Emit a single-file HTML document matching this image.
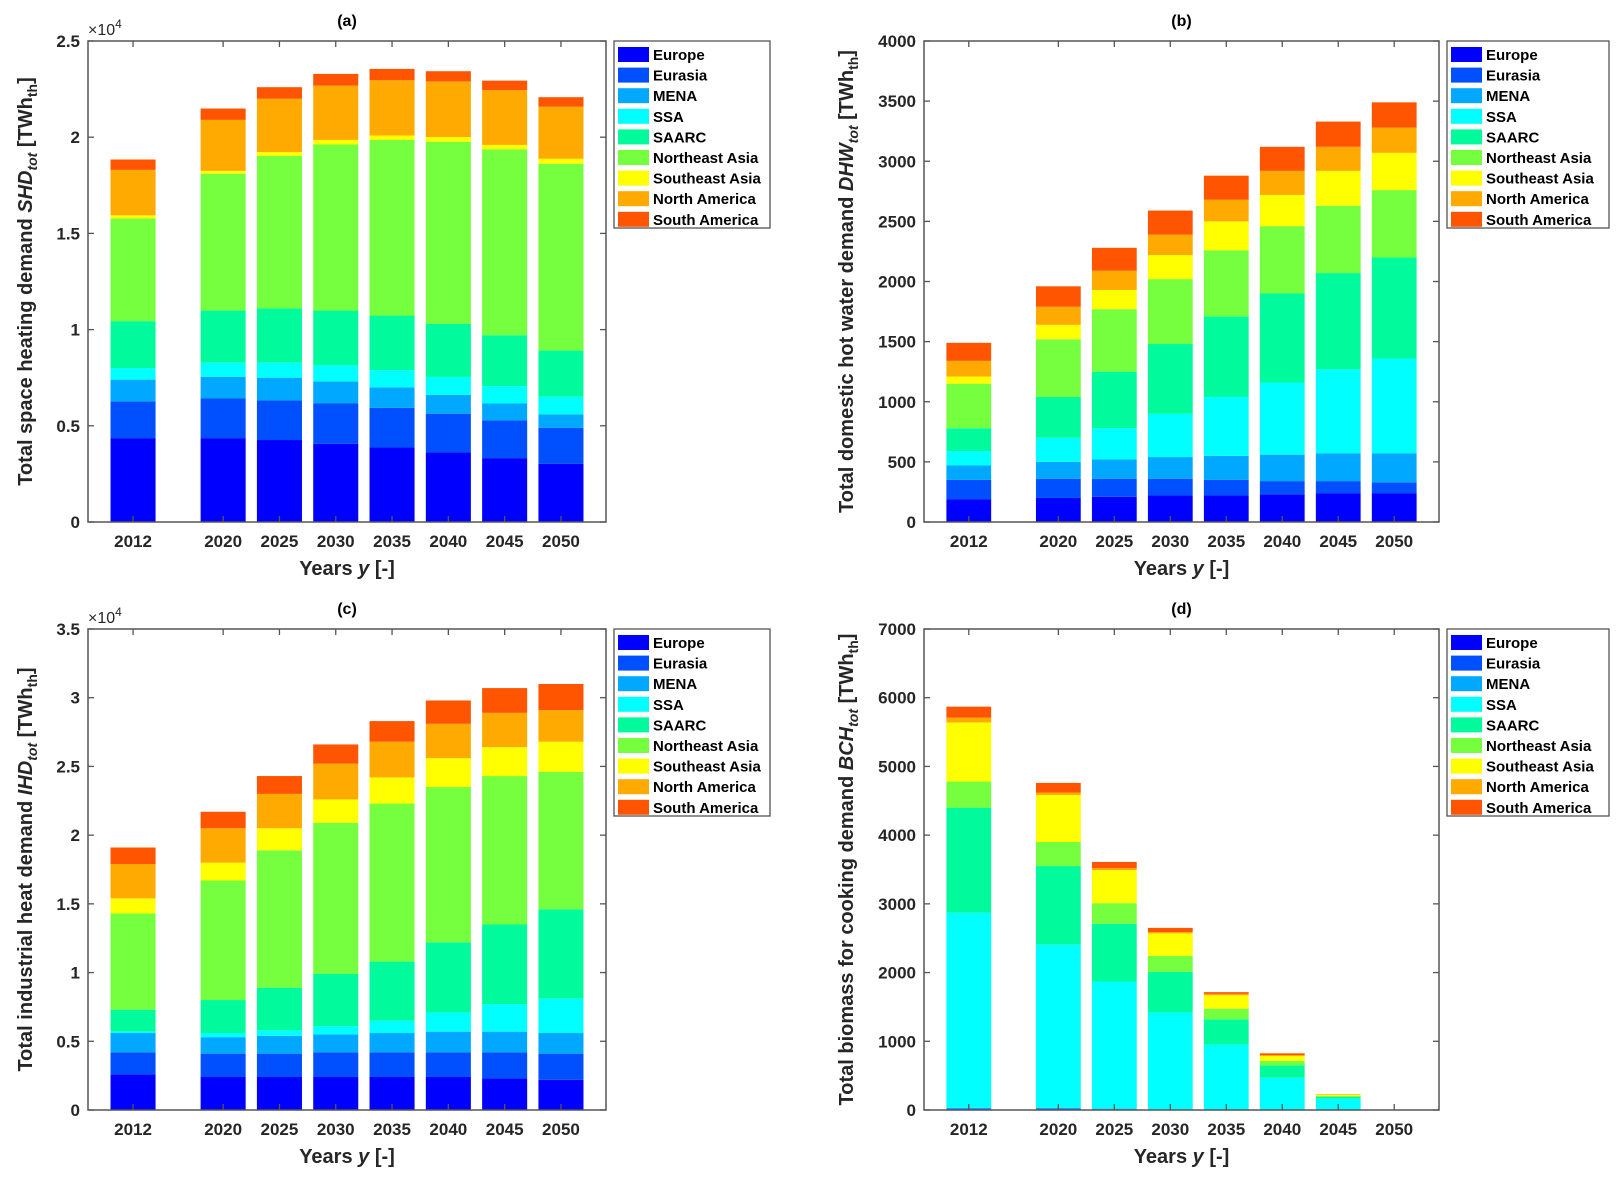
<!DOCTYPE html>
<html><head><meta charset="utf-8"><style>
html,body{margin:0;padding:0;background:#fff;}
svg{display:block;font-family:"Liberation Sans Narrow","Liberation Sans",sans-serif;font-weight:bold;}
</style></head><body>
<svg id="fig" width="1620" height="1181" viewBox="0 0 1620 1181" xmlns="http://www.w3.org/2000/svg"></svg>
<script>
const years = [2012, 2020, 2025, 2030, 2035, 2040, 2045, 2050];
const regions = ["Europe","Eurasia","MENA","SSA","SAARC","Northeast Asia","Southeast Asia","North America","South America"];
const colors = ["#0000ff","#0050ff","#00a8ff","#00ffff","#00fa9c","#76ff3e","#ffff00","#ffaa00","#ff5500"];
// (a) space heating demand [TWh]
const shdEurope   = [4360,4360,4260,4060,3870,3610,3320,3020];
const shdEurasia  = [1900,2060,2060,2100,2060,2020,1960,1870];
const shdMENA     = [1140,1130,1180,1140,1070,980,880,700];
const shdSSA      = [600,730,780,840,890,930,900,920];
const shdSAARC    = [2440,2720,2820,2850,2840,2760,2650,2400];
const shdNEAsia   = [5340,7100,7930,8630,9130,9460,9660,9710];
const shdSEAsia   = [160,150,200,240,230,250,230,260];
const shdNAmerica = [2360,2650,2770,2820,2870,2890,2850,2710];
const shdSAmerica = [540,590,600,610,590,530,490,490];
// (b) domestic hot water
const dhwEurope   = [190,200,210,220,220,230,240,240];
const dhwEurasia  = [160,160,150,140,130,110,100,90];
const dhwMENA     = [120,140,160,180,200,220,230,240];
const dhwSSA      = [120,200,260,360,490,600,700,790];
const dhwSAARC    = [190,340,470,580,670,740,800,840];
const dhwNEAsia   = [370,480,520,540,550,560,560,560];
const dhwSEAsia   = [60,120,160,200,240,260,290,310];
const dhwNAmerica = [130,150,160,170,180,200,200,210];
const dhwSAmerica = [150,170,190,200,200,200,210,210];
// (c) industrial heat demand
const ihdEurope   = [2600,2400,2400,2400,2400,2400,2300,2200];
const ihdEurasia  = [1600,1700,1700,1800,1800,1800,1900,1900];
const ihdMENA     = [1400,1200,1300,1300,1400,1500,1500,1500];
const ihdSSA      = [100,300,400,600,900,1400,2000,2500];
const ihdSAARC    = [1600,2400,3100,3800,4300,5100,5800,6500];
const ihdNEAsia   = [7000,8700,10000,11000,11500,11300,10800,10000];
const ihdSEAsia   = [1100,1300,1600,1700,1900,2100,2100,2200];
const ihdNAmerica = [2500,2500,2500,2600,2600,2500,2500,2300];
const ihdSAmerica = [1200,1200,1300,1400,1500,1700,1800,1900];
// (d) biomass for cooking
const bchEurope   = [10,10,5,3,0,0,0,0];
const bchEurasia  = [10,10,5,3,0,0,0,0];
const bchMENA     = [10,10,10,4,0,0,0,0];
const bchSSA      = [2840,2375,1850,1410,950,470,165,0];
const bchSAARC    = [1530,1145,840,590,370,180,25,0];
const bchNEAsia   = [380,350,300,235,155,65,15,0];
const bchSEAsia   = [860,685,480,325,195,70,20,0];
const bchNAmerica = [70,35,30,20,20,15,5,0];
const bchSAmerica = [160,140,90,60,25,25,2,0];
const ticksA = [0,0.5,1,1.5,2,2.5];
const ticksB = [0,500,1000,1500,2000,2500,3000,3500,4000];
const ticksC = [0,0.5,1,1.5,2,2.5,3,3.5];
const ticksD = [0,1000,2000,3000,4000,5000,6000,7000];

const NS="http://www.w3.org/2000/svg";
const svg=document.getElementById('fig');
function mk(tag,attrs,parent){const e=document.createElementNS(NS,tag);for(const k in attrs)e.setAttribute(k,attrs[k]);(parent||svg).appendChild(e);return e;}

function panel(p){
  const g=mk('g',{});
  
  
  const L=p.L,R=p.R,T=p.T,B=p.B;
  const xs=v=>L+(v-2008)/(2054-2008)*(R-L);
  const ys=v=>B-v/p.ymax*(B-T);
  // bars
  const bw=4/(46)*(R-L);
  years.forEach((yr,i)=>{
    let cum=0;
    p.series.forEach((s,j)=>{
      const v=s[i]; if(v<=0){return;}
      const y0=ys(cum/p.scale), y1=ys((cum+v)/p.scale);
      const r=mk('rect',{x:xs(yr)-bw/2,y:y1,width:bw,height:Math.max(0,y0-y1),fill:colors[j]},g);
      
      
      cum+=v;
    });
  });
  // axes box
  const box=mk('rect',{x:L,y:T,width:R-L,height:B-T,fill:'none',stroke:'#555','stroke-width':1.5},g);
  
  
  p.ticks.forEach(t=>{
    const y=ys(t);
    mk('line',{x1:L,x2:L+6,y1:y,y2:y,stroke:'#555','stroke-width':1.3},g);
    mk('line',{x1:R,x2:R-6,y1:y,y2:y,stroke:'#555','stroke-width':1.3},g);
    const tx=mk('text',{x:L-8,y:y+6,'text-anchor':'end','font-size':17,fill:'#262626'},g);
    tx.textContent=String(t);
    
    
  });
  years.forEach(yr=>{
    const x=xs(yr);
    mk('line',{x1:x,x2:x,y1:B,y2:B-6,stroke:'#555','stroke-width':1.3},g);
    mk('line',{x1:x,x2:x,y1:T,y2:T+6,stroke:'#555','stroke-width':1.3},g);
    const tx=mk('text',{x:x,y:B+25,'text-anchor':'middle','font-size':17,fill:'#262626'},g);
    tx.textContent=String(yr);
    
    
  });
  const title=mk('text',{x:(L+R)/2,y:T-15,'text-anchor':'middle','font-size':16,fill:'#000'},g);
  title.textContent=p.title;
  
  
  const xl=mk('text',{x:(L+R)/2,y:B+53,'text-anchor':'middle','font-size':20,fill:'#262626'},g);
  xl.innerHTML='Years <tspan font-style="italic">y</tspan> [-]';
  
  
  const yl=mk('text',{x:0,y:0,'text-anchor':'middle','font-size':20,fill:'#262626',transform:`translate(${p.ylx},${(T+B)/2}) rotate(-90)`},g);
  yl.innerHTML=p.ylabel+' <tspan font-style="italic">'+p.sym+'</tspan><tspan font-style="italic" font-size="14" dy="5">tot</tspan><tspan dy="-5"> [TWh</tspan><tspan font-size="14" dy="5">th</tspan><tspan dy="-5">]</tspan>';
  
  
  if(p.exp){
    const ex=mk('text',{x:L,y:T-6,'font-size':16,fill:'#262626','font-weight':'normal'},g);
    ex.innerHTML='×10<tspan font-size="12" dy="-7">4</tspan>';
    
    
  }
  // legend
  const lx=R+8, ly=T, lw=p.lw, lh=187;
  const lg=mk('g',{},g);
  
  
  mk('rect',{x:lx,y:ly,width:lw,height:lh,fill:'#fff',stroke:'#555','stroke-width':1.3},lg);
  regions.forEach((r,j)=>{
    const yy=ly+4+j*20.6;
    const sw=mk('rect',{x:lx+4,y:yy+2,width:31,height:15,fill:colors[j]},lg);
    
    
    const t=mk('text',{x:lx+39,y:yy+15,'font-size':15,fill:'#000'},lg);
    t.textContent=r;
    
    
  });
}
panel({id:'a',title:'(a)',L:88,R:606,T:41,B:522,ymax:2.5,scale:10000,ticks:ticksA,exp:true,ylx:32,lw:156,
  ylabel:'Total space heating demand',sym:'SHD',
  series:[shdEurope,shdEurasia,shdMENA,shdSSA,shdSAARC,shdNEAsia,shdSEAsia,shdNAmerica,shdSAmerica]});
panel({id:'b',title:'(b)',L:924,R:1439,T:41,B:522,ymax:4000,scale:1,ticks:ticksB,exp:false,ylx:853,lw:162,
  ylabel:'Total domestic hot water demand',sym:'DHW',
  series:[dhwEurope,dhwEurasia,dhwMENA,dhwSSA,dhwSAARC,dhwNEAsia,dhwSEAsia,dhwNAmerica,dhwSAmerica]});
panel({id:'c',title:'(c)',L:88,R:606,T:629,B:1110,ymax:3.5,scale:10000,ticks:ticksC,exp:true,ylx:32,lw:156,
  ylabel:'Total industrial heat demand',sym:'IHD',
  series:[ihdEurope,ihdEurasia,ihdMENA,ihdSSA,ihdSAARC,ihdNEAsia,ihdSEAsia,ihdNAmerica,ihdSAmerica]});
panel({id:'d',title:'(d)',L:924,R:1439,T:629,B:1110,ymax:7000,scale:1,ticks:ticksD,exp:false,ylx:853,lw:162,
  ylabel:'Total biomass for cooking demand',sym:'BCH',
  series:[bchEurope,bchEurasia,bchMENA,bchSSA,bchSAARC,bchNEAsia,bchSEAsia,bchNAmerica,bchSAmerica]});
</script>
</body></html>
